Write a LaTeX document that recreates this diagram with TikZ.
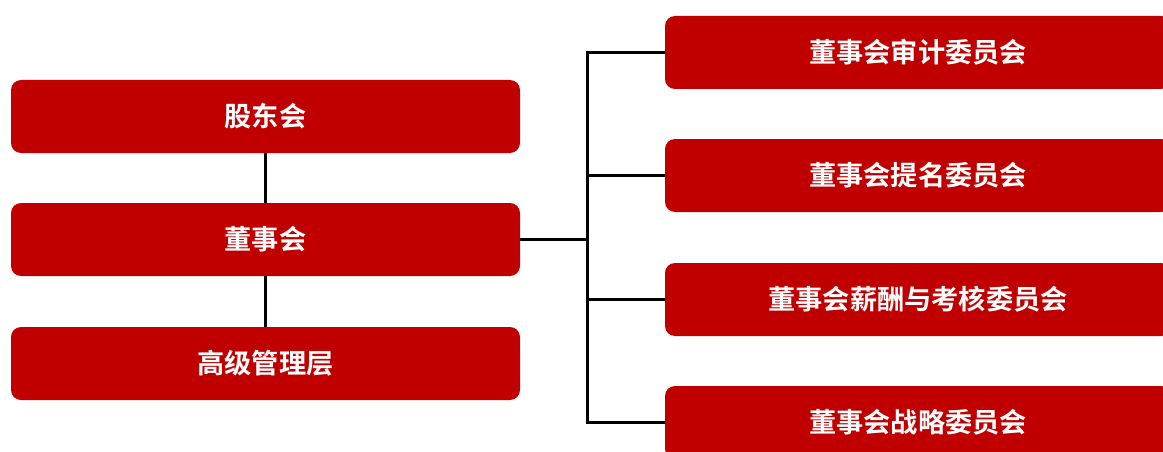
\documentclass[tikz,border=0pt]{standalone}
\usepackage{fontspec}
\setmainfont{Noto Sans CJK SC Bold}
\usetikzlibrary{positioning}
\definecolor{boardred}{RGB}{192,0,0}
\tikzset{
	redbox/.style={fill=boardred, rounded corners=10pt, inner sep=0pt, text=white,
		font=\fontsize{27.2}{31}\selectfont, minimum height=73pt},
	leftbox/.style={redbox, minimum width=509pt},
	rightbox/.style={redbox, minimum width=506pt},
	wire/.style={line width=3pt, black}
}

\begin{document}
\begin{tikzpicture}[x=1pt,y=-1pt]
	\useasboundingbox (0,0) rectangle (1163,452);
	\clip (0,0) rectangle (1163,452);

	\node[leftbox] (holders) at (265.5,116.5) {股东会};
	\node[leftbox] (board) at (265.5,239.5) {董事会};
	\node[leftbox] (mgmt) at (265.5,363.5) {高级管理层};

	\node[rightbox] (audit) at (918,52.5) {董事会审计委员会};
	\node[rightbox] (nominate) at (918,175.5) {董事会提名委员会};
	\node[rightbox] (pay) at (918,299.5) {董事会薪酬与考核委员会};
	\node[rightbox] (strategy) at (918,422.5) {董事会战略委员会};

	\coordinate (bus) at (587,239.5);
	\draw[wire] (holders) -- (board);
	\draw[wire] (board) -- (mgmt);
	\draw[wire] (board.east) -- (bus);
	\draw[wire] (audit.west) -| (bus) |- (strategy.west);
	\draw[wire] (nominate.west) -- (nominate.west -| bus);
	\draw[wire] (pay.west) -- (pay.west -| bus);
\end{tikzpicture}
\end{document}
